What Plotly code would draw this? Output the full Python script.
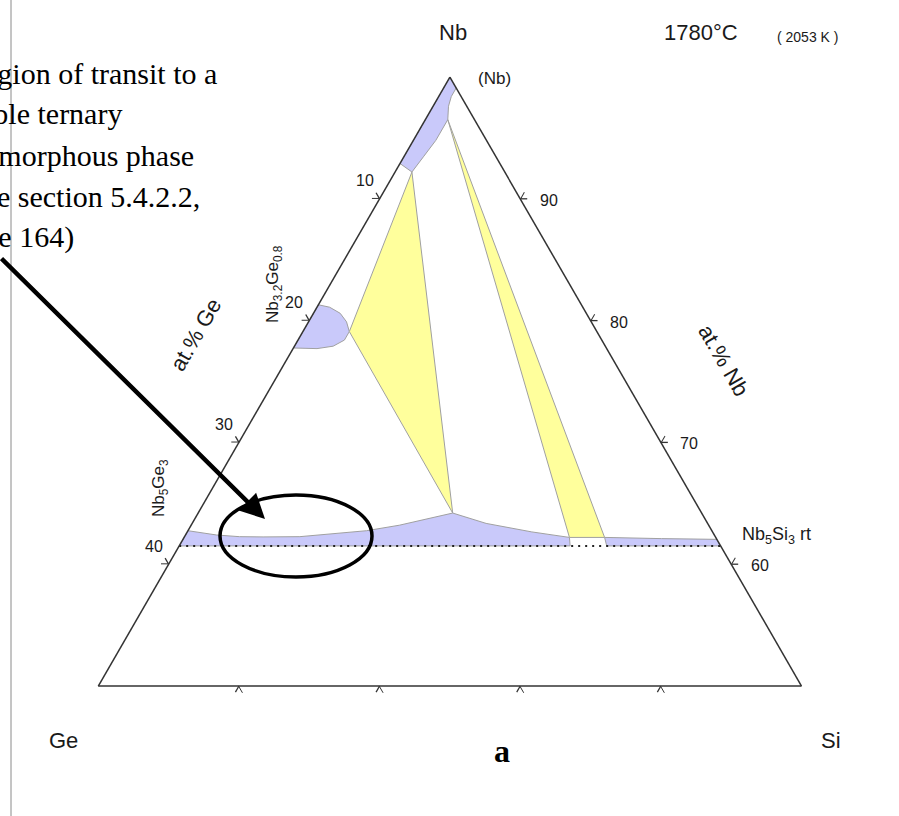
import math
import plotly.graph_objects as go

W, H = 899, 816

# Phase-field outlines, at.% Nb and at.% Si (Ge is the balance)
nbss_nb = [100.0, 99.1, 98.4, 97.6, 96.5, 94.8, 93.5, 92.2, 92.9]
nbss_si = [0.0, 0.9, 0.9, 1.1, 1.6, 1.6, 1.4, 1.2, 0.0]

nb3ge_nb = [81.3, 81.1, 80.6, 79.9, 79.1, 78.4, 77.9, 77.7, 77.75]
nb3ge_si = [0.0, 0.9, 1.9, 2.7, 3.3, 3.3, 2.75, 1.7, 0.0]

tri1_nb = [92.2, 79.1, 64.2]
tri1_si = [1.2, 3.3, 18.1]

tri2_nb = [96.5, 62.2, 62.2]
tri2_si = [1.6, 27.4, 29.9]

nb53_left_nb = [62.75, 62.4, 62.26, 62.24, 62.26, 62.75, 63.2, 64.2, 63.35, 62.65, 62.2, 61.5, 61.5]
nb53_left_si = [0.0, 2.2, 3.9, 5.6, 8.2, 12.7, 14.8, 18.1, 20.9, 24.5, 27.4, 27.8, 0.0]

nb53_right_nb = [62.2, 62.1, 62.04, 61.5, 61.5]
nb53_right_si = [29.9, 34.0, 37.96, 38.5, 30.4]

dotted_nb = [61.5, 61.5]
dotted_si = [0.0, 38.5]

# Axis ticks
ge_ticks = [10, 20, 30, 40]   # left edge (Nb-Ge side)
nb_ticks = [90, 80, 70, 60]   # right edge (Nb-Si side)
si_ticks = [10, 20, 30, 40]   # bottom edge, unlabelled
NB_MIN = 50

BLUE = "#c9c9fa"
YELLOW = "#ffff9c"
EDGE = "#a0a0a0"
AXIS = "#333333"
TICK_LEN = 7

# Triangle placement on the page (pixels)
TRI_LEFT, TRI_RIGHT, TRI_BOTTOM = 98.3, 801.5, 686.0
TRI_W = TRI_RIGHT - TRI_LEFT
TRI_H = TRI_W * math.sqrt(3) / 2
SPAN = 100 - NB_MIN


def ge_of(nb, si):
    return [round(100 - a - c, 3) for a, c in zip(nb, si)]


def comp_px(nb, si):
    """Page pixel of a composition inside the displayed triangle."""
    f = (nb - NB_MIN) / SPAN
    return TRI_LEFT + TRI_W * si / SPAN + TRI_W / 2 * f, TRI_BOTTOM - TRI_H * f


def region(nb, si, color):
    ge = ge_of(nb, si)
    return go.Scatterternary(
        a=nb + nb[:1], b=ge + ge[:1], c=si + si[:1],
        mode="lines", fill="toself", fillcolor=color,
        line=dict(color=EDGE, width=1), hoverinfo="skip",
    )


fig = go.Figure()
fig.add_trace(region(nbss_nb, nbss_si, BLUE))
fig.add_trace(region(nb3ge_nb, nb3ge_si, BLUE))
fig.add_trace(region(tri1_nb, tri1_si, YELLOW))
fig.add_trace(region(tri2_nb, tri2_si, YELLOW))
fig.add_trace(region(nb53_left_nb, nb53_left_si, BLUE))
fig.add_trace(region(nb53_right_nb, nb53_right_si, BLUE))
fig.add_trace(go.Scatterternary(
    a=dotted_nb, b=ge_of(dotted_nb, dotted_si), c=dotted_si,
    mode="lines", line=dict(color="#222222", width=2, dash="2px,5px"),
    hoverinfo="skip",
))

SANS = "Liberation Sans, Arial, sans-serif"
SERIF = "Liberation Serif, Times New Roman, serif"
axis_common = dict(
    showgrid=False, showline=True, linecolor=AXIS, linewidth=1.5,
    ticks="outside", ticklen=TICK_LEN, tickwidth=1.3, tickcolor=AXIS,
    tickmode="array", showticklabels=False, title=dict(text=""),
)

y_mid = 1 - (TRI_BOTTOM - TRI_H / 2) / H
fig.update_layout(
    width=W, height=H,
    margin=dict(l=0, r=0, t=0, b=0),
    paper_bgcolor="white",
    showlegend=False,
    ternary=dict(
        sum=100,
        bgcolor="white",
        domain=dict(x=[TRI_LEFT / W, TRI_RIGHT / W], y=[y_mid - 0.38, y_mid + 0.38]),
        aaxis=dict(axis_common, min=NB_MIN, tickvals=[100 - g for g in ge_ticks]),
        baxis=dict(axis_common, min=0, tickvals=[SPAN - s for s in si_ticks]),
        caxis=dict(axis_common, min=0, tickvals=[100 - n for n in nb_ticks]),
    ),
)


def label(x, y, text, size=18, angle=0, family=SANS, color="#1a1a1a",
          xanchor="center"):
    fig.add_annotation(
        x=x / W, y=1 - y / H, xref="paper", yref="paper", text=text,
        showarrow=False, textangle=angle, xanchor=xanchor, yanchor="middle",
        font=dict(family=family, size=size, color=color),
    )


def tick_arm(x, y, angle_deg):
    """Second arm of a chevron tick, along the other grid direction."""
    dx = TICK_LEN * math.cos(math.radians(angle_deg))
    dy = -TICK_LEN * math.sin(math.radians(angle_deg))
    fig.add_shape(type="line", xref="paper", yref="paper",
                  x0=x / W, y0=1 - y / H, x1=(x + dx) / W, y1=1 - (y + dy) / H,
                  line=dict(color=AXIS, width=1.3))


# tick labels (and chevron arms): Ge on the left edge, Nb on the right edge
for g in ge_ticks:
    tx, ty = comp_px(100 - g, 0)
    tick_arm(tx, ty, 120)
    label(tx - 15, ty - 18, str(g), size=16)
for n in nb_ticks:
    tx, ty = comp_px(n, 100 - n)
    tick_arm(tx, ty, 0)
    label(tx + 28.5, ty + 1.5, str(n), size=16)
for s in si_ticks:
    tx, ty = comp_px(NB_MIN, s)
    tick_arm(tx, ty, 240)

# corner and axis labels
label(453, 33, "Nb", size=22)
label(63, 740, "Ge", size=22)
label(831, 740, "Si", size=22)
label(701, 33, "1780°C", size=22)
label(807, 37, "( 2053 K )", size=14)
label(195, 335, "at.% Ge", size=22, angle=-60)
label(724, 360, "at.% Nb", size=22, angle=60)

# phase labels
label(494, 78, "(Nb)", size=17)
label(274, 284, "Nb<sub>3.2</sub>Ge<sub>0.8</sub>", size=17, angle=-90)
label(160, 488, "Nb<sub>5</sub>Ge<sub>3</sub>", size=17, angle=-90)
label(776, 535, "Nb<sub>5</sub>Si<sub>3</sub> rt", size=18)

label(502, 751, "<b>a</b>", size=32, family=SERIF, color="#000000")

# note text at the upper left
note_lines = [
    ("Region of transit to a", 219, 73),
    ("stable ternary", 124, 114),
    ("amorphous phase", 196, 155),
    ("(see section 5.4.2.2,", 202, 197),
    ("page 164)", 76, 237),
]
for txt, xr, yc in note_lines:
    label(xr, yc, txt, size=30, family=SERIF, color="#000000", xanchor="right")

# arrow pointing at the marked range
fig.add_annotation(
    x=265 / W, y=1 - 519 / H, xref="paper", yref="paper", text="",
    showarrow=True, ax=-270, ay=-262, arrowhead=2, arrowsize=1.1,
    arrowwidth=4.5, arrowcolor="#000000", standoff=0,
)

# ellipse around the marked range
fig.add_shape(type="circle", xref="paper", yref="paper",
              x0=220 / W, x1=372 / W, y0=1 - 577 / H, y1=1 - 495 / H,
              line=dict(color="#000000", width=3.5))

# frame line on the left
fig.add_shape(type="line", xref="paper", yref="paper",
              x0=11 / W, x1=11 / W, y0=0, y1=1,
              line=dict(color="#8a8a8a", width=1))

fig.write_html("out.html")
